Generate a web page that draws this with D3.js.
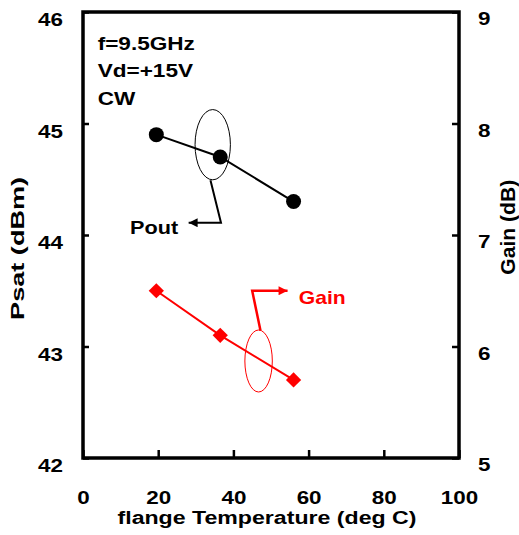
<!DOCTYPE html>
<html>
<head>
<meta charset="utf-8">
<script src="https://cdn.jsdelivr.net/npm/d3@7"></script>
<style>
    body { margin: 0; background: #fff; }
    #chart { width: 519px; height: 535px; }
    text { font-family: "Liberation Sans", Arial, sans-serif; font-weight: bold; }
</style>
</head>
<body>
<div id="chart"></div>
<script>
// flange temperature (deg C)
const temps = [19.5, 36.5, 56];
// saturated output power (dBm), left axis
const psat = [44.9, 44.7, 44.3];
// gain (dB), right axis
const gain = [6.5, 6.1, 5.7];

const xTicks = [0, 20, 40, 60, 80, 100];
const psatTicks = [42, 43, 44, 45, 46];
const gainTicks = [5, 6, 7, 8, 9];

const conditions = ["f=9.5GHz", "Vd=+15V", "CW"];

class TempChart {

    constructor(parentElement) {
        this.parentElement = parentElement;
        this.initVis();
    }

    initVis() {
        let vis = this;

        vis.margin = {top: 12, right: 60, bottom: 77, left: 83};
        vis.width = 519 - vis.margin.left - vis.margin.right;
        vis.height = 535 - vis.margin.top - vis.margin.bottom;

        vis.svg = d3.select("#" + vis.parentElement).append("svg")
            .attr("width", 519)
            .attr("height", 535)
            .append("g")
            .attr("transform", `translate(${vis.margin.left},${vis.margin.top})`);

        vis.x = d3.scaleLinear().domain([0, 100]).range([0, vis.width]);
        vis.yL = d3.scaleLinear().domain([42, 46]).range([vis.height, 0]);
        vis.yR = d3.scaleLinear().domain([5, 9]).range([vis.height, 0]);

        // arrow heads for the callouts
        let defs = d3.select("#" + vis.parentElement + " svg").append("defs");
        [["arrowK", "#000"], ["arrowR", "#f00"]].forEach(([id, c]) => {
            defs.append("marker")
                .attr("id", id)
                .attr("markerUnits", "userSpaceOnUse")
                .attr("viewBox", "0 0 10 10")
                .attr("refX", 10).attr("refY", 5)
                .attr("markerWidth", 10).attr("markerHeight", 9)
                .attr("orient", "auto")
                .append("path")
                .attr("d", "M0,0L10,5L0,10Z")
                .attr("fill", c);
        });

        vis.updateVis();
    }

    // the original figure is stretched sideways, so widen glyphs a bit
    stretch(sel, k) {
        sel.each(function () {
            let w = this.getComputedTextLength();
            d3.select(this).attr("textLength", w * k).attr("lengthAdjust", "spacingAndGlyphs");
        });
    }

    updateVis() {
        let vis = this;
        let fmt = d3.format("d");

        let xAxis = vis.svg.append("g")
            .attr("transform", `translate(0,${vis.height})`)
            .call(d3.axisBottom(vis.x).tickValues(xTicks).tickFormat(fmt)
                .tickSizeInner(-8).tickSizeOuter(0).tickPadding(32));
        let lAxis = vis.svg.append("g")
            .call(d3.axisLeft(vis.yL).tickValues(psatTicks).tickFormat(fmt)
                .tickSizeInner(-6).tickSizeOuter(0).tickPadding(20));
        let rAxis = vis.svg.append("g")
            .attr("transform", `translate(${vis.width},0)`)
            .call(d3.axisRight(vis.yR).tickValues(gainTicks).tickFormat(fmt)
                .tickSizeInner(-7).tickSizeOuter(0).tickPadding(19));

        [xAxis, lAxis, rAxis].forEach(a => {
            a.select(".domain").remove();
            a.selectAll("line").attr("stroke", "#000").attr("stroke-width", 2.5);
            a.selectAll("text").attr("font-size", 19).attr("fill", "#000");
        });
        xAxis.selectAll("text").attr("dy", 13.5);
        lAxis.selectAll("text").attr("dy", 13.5);
        rAxis.selectAll("text").attr("dy", 12.5);
        [xAxis, lAxis, rAxis].forEach(a => vis.stretch(a.selectAll("text"), 1.18));

        // frame
        vis.svg.append("rect")
            .attr("width", vis.width)
            .attr("height", vis.height)
            .attr("fill", "none")
            .attr("stroke", "#000")
            .attr("stroke-width", 3.5);

        // axis titles
        vis.svg.append("text")
            .attr("x", vis.width / 2 - 4)
            .attr("y", vis.height + 66)
            .attr("text-anchor", "middle")
            .attr("font-size", 17.5)
            .attr("textLength", 299)
            .attr("lengthAdjust", "spacingAndGlyphs")
            .text("flange Temperature (deg C)");

        vis.svg.append("text")
            .attr("transform", `translate(${24 - vis.margin.left},${vis.yL(43.88)}) rotate(-90)`)
            .attr("text-anchor", "middle")
            .attr("font-size", 19)
            .attr("textLength", 143)
            .attr("lengthAdjust", "spacingAndGlyphs")
            .text("Psat (dBm)");

        vis.svg.append("text")
            .attr("transform", `translate(${515 - vis.margin.left},${vis.yR(7.07)}) rotate(-90)`)
            .attr("text-anchor", "middle")
            .attr("font-size", 20)
            .attr("textLength", 95)
            .attr("lengthAdjust", "spacingAndGlyphs")
            .text("Gain (dB)");

        // measurement conditions
        let cond = vis.svg.selectAll(".cond")
            .data(conditions)
            .enter().append("text")
            .attr("class", "cond")
            .attr("x", vis.x(3.9))
            .attr("y", (d, i) => vis.yL(45.66 - i * 0.245))
            .attr("font-size", 18.5)
            .text(d => d);
        vis.stretch(cond, 1.22);

        // lines
        let pts = temps.map((t, i) => ({t: t, p: psat[i], g: gain[i]}));

        vis.svg.append("path")
            .datum(pts)
            .attr("fill", "none")
            .attr("stroke", "#000")
            .attr("stroke-width", 2)
            .attr("d", d3.line().x(d => vis.x(d.t)).y(d => vis.yL(d.p)));

        vis.svg.append("path")
            .datum(pts)
            .attr("fill", "none")
            .attr("stroke", "#f00")
            .attr("stroke-width", 2)
            .attr("d", d3.line().x(d => vis.x(d.t)).y(d => vis.yR(d.g)));

        vis.svg.selectAll(".pout")
            .data(pts)
            .enter().append("circle")
            .attr("class", "pout")
            .attr("cx", d => vis.x(d.t))
            .attr("cy", d => vis.yL(d.p))
            .attr("r", 7.5)
            .attr("fill", "#000");

        vis.svg.selectAll(".gain")
            .data(pts)
            .enter().append("path")
            .attr("class", "gain")
            .attr("transform", d => `translate(${vis.x(d.t)},${vis.yR(d.g)})`)
            .attr("d", d3.symbol().type(d3.symbolDiamond2).size(148))
            .attr("fill", "#f00");

        // callouts (ellipse + bent arrow + label)
        let pl = d3.line().x(d => vis.x(d[0])).y(d => vis.yL(d[1]));
        let rl = d3.line().x(d => vis.x(d[0])).y(d => vis.yR(d[1]));

        vis.svg.append("ellipse")
            .attr("cx", vis.x(34.5)).attr("cy", vis.yL(44.81))
            .attr("rx", vis.x(4.7) - vis.x(0)).attr("ry", vis.yL(0) - vis.yL(0.315))
            .attr("fill", "none").attr("stroke", "#000").attr("stroke-width", 1);
        vis.svg.append("path")
            .attr("d", pl([[33.9, 44.49], [36.7, 44.11], [28.1, 44.11]]))
            .attr("fill", "none").attr("stroke", "#000").attr("stroke-width", 2)
            .attr("marker-end", "url(#arrowK)");
        let pt = vis.svg.append("text")
            .attr("x", vis.x(25.3)).attr("y", vis.yL(44.01))
            .attr("text-anchor", "end")
            .attr("font-size", 18.5)
            .text("Pout");
        vis.stretch(pt, 1.17);

        vis.svg.append("ellipse")
            .attr("cx", vis.x(46.7)).attr("cy", vis.yR(5.87))
            .attr("rx", vis.x(3.65) - vis.x(0)).attr("ry", vis.yR(5) - vis.yR(5.278))
            .attr("fill", "none").attr("stroke", "#f00").attr("stroke-width", 1);
        vis.svg.append("path")
            .attr("d", rl([[47.2, 6.143], [45.0, 6.5], [54.4, 6.5]]))
            .attr("fill", "none").attr("stroke", "#f00").attr("stroke-width", 2.5)
            .attr("marker-end", "url(#arrowR)");
        let gt = vis.svg.append("text")
            .attr("x", vis.x(57.4)).attr("y", vis.yR(6.38))
            .attr("font-size", 18.5)
            .attr("fill", "#f00")
            .text("Gain");
        vis.stretch(gt, 1.14);
    }
}

new TempChart("chart");
</script>
</body>
</html>
